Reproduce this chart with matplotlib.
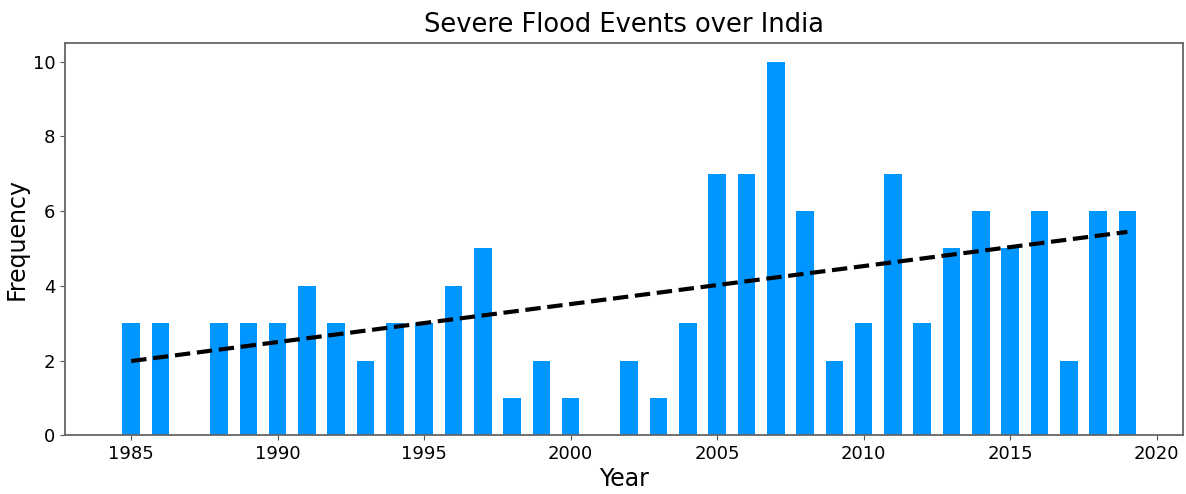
import matplotlib
matplotlib.use('Agg')
import matplotlib.pyplot as plt
import numpy as np

# flood counts per year
years = list(range(1985, 2020))
counts = [3, 3, 0, 3, 3, 3, 4, 3, 2, 3, 3, 4, 5, 1, 2, 1, 0, 2, 1, 3,
          7, 7, 10, 6, 2, 3, 7, 3, 5, 6, 5, 6, 2, 6, 6]

x = np.array(years)
y = np.array(counts)

# linear trend over all years
coef = np.polyfit(x, y, 1)
trend = np.polyval(coef, x)

fig = plt.figure(figsize=(11.86, 4.94), dpi=100)
ax = fig.add_axes([0.055, 0.119, 0.9425, 0.794])

ax.bar(x, y, width=0.6, color='#0096ff')
ax.plot(x, trend, color='black', linestyle='--', linewidth=3)

ax.set_xlim(1982.75, 2020.9)
ax.set_title("Severe Flood Events over India", fontsize=18.5, pad=8)
ax.set_xlabel("Year", fontsize=17, labelpad=3)
ax.set_ylabel("Frequency", fontsize=17, labelpad=3)
ax.tick_params(labelsize=13, color='#555555')
for s in ax.spines.values():
    s.set_color('#666666')
    s.set_linewidth(1.3)

fig.savefig("out.png", dpi=100)
